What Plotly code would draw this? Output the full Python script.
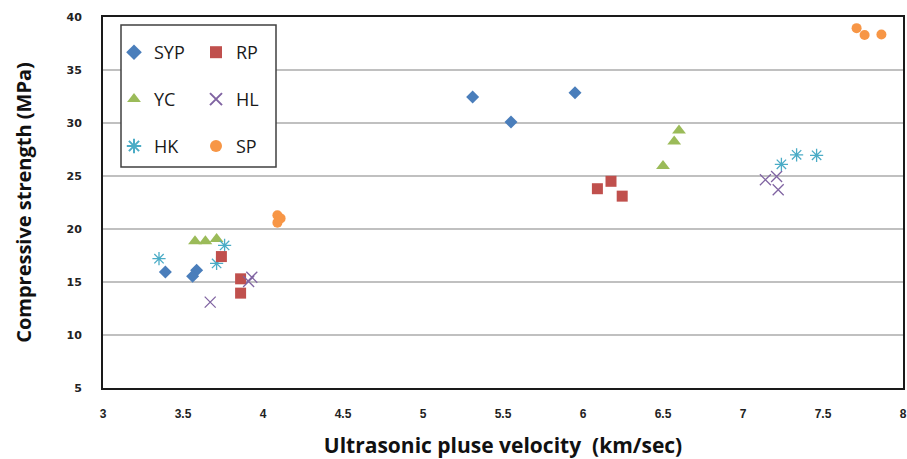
import plotly.graph_objects as go

# ---- data ----
syp_x = [3.39, 3.585, 3.56, 5.31, 5.55, 5.95]
syp_y = [15.95, 16.1, 15.55, 32.45, 30.1, 32.85]

rp_x = [3.74, 3.86, 3.86, 6.09, 6.175, 6.245]
rp_y = [17.4, 15.3, 13.95, 23.8, 24.5, 23.1]

yc_x = [3.575, 3.64, 3.71, 6.5, 6.57, 6.60]
yc_y = [18.85, 18.85, 19.05, 25.95, 28.25, 29.3]

hl_x = [3.67, 3.93, 3.91, 7.14, 7.21, 7.22]
hl_y = [13.1, 15.45, 15.05, 24.65, 24.95, 23.7]

hk_x = [3.35, 3.76, 3.71, 7.24, 7.335, 7.46]
hk_y = [17.2, 18.45, 16.75, 26.1, 27.0, 26.95]

sp_x = [4.09, 4.11, 4.09, 7.71, 7.76, 7.865]
sp_y = [21.3, 21.0, 20.6, 38.95, 38.3, 38.35]

x_ticks = [3, 3.5, 4, 4.5, 5, 5.5, 6, 6.5, 7, 7.5, 8]
y_ticks = [5, 10, 15, 20, 25, 30, 35, 40]

fig = go.Figure()

def add(name, xs, ys, symbol, color, size, legend, group, line_w=0):
    fig.add_trace(go.Scatter(
        x=xs, y=ys, mode="markers", name=name, legend=legend,
        legendgroup=group,
        marker=dict(symbol=symbol, size=size, color=color,
                    line=dict(width=line_w, color=color)),
    ))

add("SYP", syp_x, syp_y, "diamond", "#4A7EBB", 10, "legend", "a")
add("YC", yc_x, yc_y, "triangle-up", "#9BBB59", 12, "legend", "b")
add("HK", hk_x, hk_y, "asterisk-open", "#4BACC6", 11, "legend", "c", 1.3)
add("RP", rp_x, rp_y, "square", "#C0504D", 11, "legend2", "d")
add("HL", hl_x, hl_y, "x-thin-open", "#8064A2", 11, "legend2", "e", 1.3)
add("SP", sp_x, sp_y, "circle", "#F79646", 10, "legend2", "f")

L, R, T, B = 103, 4, 17, 71
W, H = 907, 459
pw, ph = W - L - R, H - T - B

def px(xp):
    return (xp - L) / pw

def py(yp):
    return (H - B - yp) / ph

legend_font = dict(family="Open Sans, Arial, sans-serif", size=18, color="#1a1a1a")

fig.update_layout(
    width=W, height=H,
    margin=dict(l=L, r=R, t=T, b=B, autoexpand=False),
    paper_bgcolor="white", plot_bgcolor="white",
    showlegend=True,
    legend=dict(x=px(114), y=py(34), xanchor="left", yanchor="top",
                bgcolor="rgba(0,0,0,0)", font=legend_font,
                tracegroupgap=20.5, itemsizing="constant"),
    legend2=dict(x=px(196), y=py(34), xanchor="left", yanchor="top",
                 bgcolor="rgba(0,0,0,0)", font=legend_font,
                 tracegroupgap=20.5, itemsizing="constant"),
    shapes=[dict(type="rect", xref="paper", yref="paper",
                 x0=px(121), x1=px(276), y0=py(167), y1=py(25),
                 line=dict(color="#404040", width=1.5),
                 fillcolor="white", layer="above")],
    xaxis=dict(range=[3, 8], tickvals=x_ticks,
               ticktext=[f"{v:g}" for v in x_ticks],
               showgrid=False, zeroline=False, automargin=False,
               showline=True, linecolor="#1a1a1a", linewidth=2, mirror=True,
               ticks="", ticklabelstandoff=14,
               tickfont=dict(family="Liberation Sans Narrow, Liberation Sans, Arial", size=12,
                             color="#222", weight="bold"),
               title=dict(text="Ultrasonic pluse velocity \u00a0(km/sec)",
                          font=dict(family="Open Sans, Arial, sans-serif", size=21,
                                    color="#111", weight="bold"),
                          standoff=18)),
    yaxis=dict(range=[5, 40], tickvals=y_ticks,
               showgrid=True, gridcolor="#C0C0C0", gridwidth=1.5,
               zeroline=False, automargin=False,
               showline=True, linecolor="#1a1a1a", linewidth=2, mirror=True,
               ticks="", ticklabelstandoff=17,
               tickfont=dict(family="DejaVu Sans, Verdana, sans-serif", size=11,
                             color="#222", weight="bold"),
               title=dict(text="Compressive strength (MPa)",
                          font=dict(family="Open Sans, Arial, sans-serif", size=20,
                                    color="#111", weight="bold"),
                          standoff=29)),
)

fig.write_html("out.html", post_script="document.body.style.margin='0';",
               config={"displayModeBar": False})
